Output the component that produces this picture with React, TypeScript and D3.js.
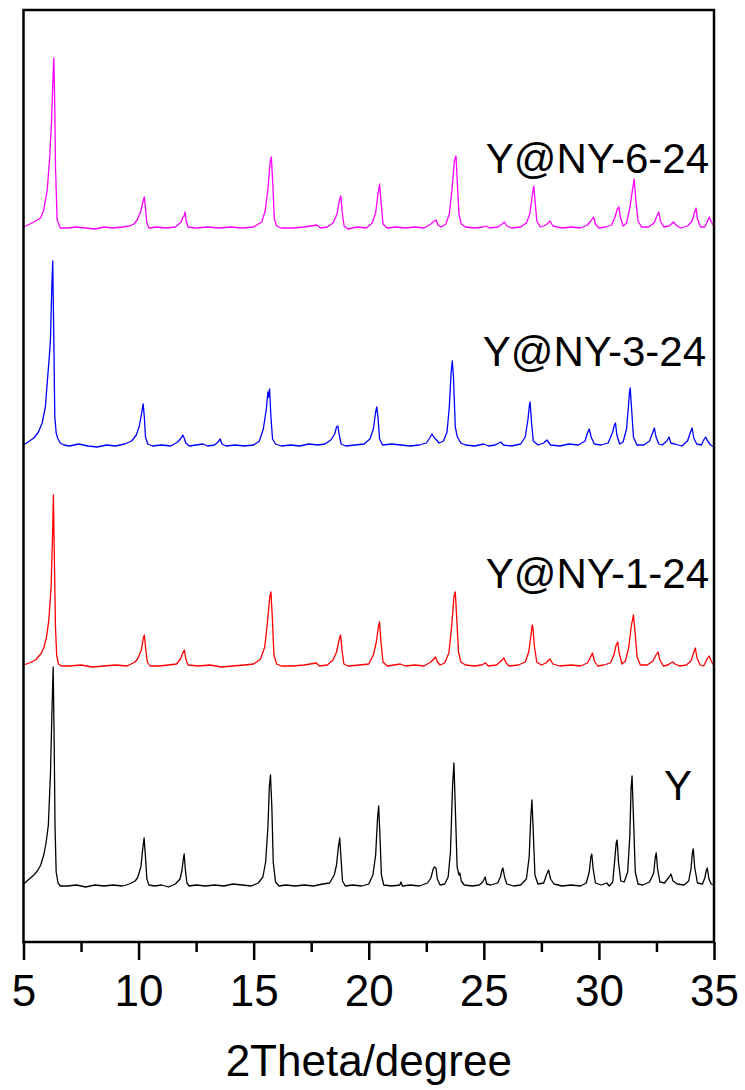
import React, { useEffect, useRef } from 'react';
import * as d3 from 'd3';

type Pt = [number, number];

// XRD patterns: [2theta, intensity above own baseline]
const patternY: Pt[] = [
  [5.0, 3], [5.15, 6], [5.3, 9], [5.45, 12], [5.6, 16], [5.75, 22], [5.88, 32], [5.98, 44], [6.08, 62], [6.17, 112], [6.23, 170], [6.29, 220], [6.33, 150], [6.37, 60], [6.42, 15], [6.5, 4], [6.6, 1],
  [6.9, 1], [7.3, 2], [7.7, 0], [8.1, 2], [8.5, 1], [8.9, 2], [9.3, 1], [9.6, 3], [9.85, 6],
  [9.95, 9], [10.1, 20], [10.18, 38], [10.24, 49], [10.3, 30], [10.36, 8], [10.45, 2],
  [10.7, 1], [11.0, 2], [11.3, 0], [11.6, 3], [11.8, 8],
  [11.88, 16], [11.94, 27], [11.98, 33], [12.03, 18], [12.1, 4], [12.2, 1],
  [12.5, 2], [12.9, 1], [13.3, 2], [13.7, 1], [14.1, 3], [14.5, 2], [14.9, 1], [15.2, 4], [15.4, 10],
  [15.52, 25], [15.62, 60], [15.68, 100], [15.73, 112], [15.79, 80], [15.85, 25], [15.95, 5], [16.1, 1],
  [16.4, 2], [16.8, 1], [17.2, 2], [17.6, 1], [18.0, 3], [18.3, 4], [18.5, 12],
  [18.6, 22], [18.68, 40], [18.74, 49], [18.79, 30], [18.86, 6], [18.98, 1],
  [19.3, 2], [19.7, 1], [20.0, 3], [20.18, 12],
  [20.3, 32], [20.38, 68], [20.43, 81], [20.48, 55], [20.55, 12], [20.65, 2],
  [21.0, 1], [21.35, 2], [21.4, 5], [21.46, 1], [21.8, 2], [22.2, 1], [22.55, 4],
  [22.7, 9], [22.8, 18], [22.85, 20], [22.92, 19], [22.98, 8], [23.1, 2], [23.3, 3], [23.45, 10],
  [23.55, 35], [23.64, 100], [23.7, 124], [23.76, 80], [23.84, 20], [23.92, 12], [23.96, 14], [24.02, 6], [24.15, 2],
  [24.5, 1], [24.8, 2], [24.95, 5], [25.06, 10], [25.12, 3], [25.3, 2], [25.6, 4],
  [25.72, 10], [25.8, 18], [25.83, 19], [25.9, 10], [26.0, 3],
  [26.3, 1], [26.6, 2], [26.85, 8],
  [26.97, 30], [27.04, 70], [27.09, 87], [27.14, 60], [27.22, 12], [27.35, 3],
  [27.6, 4], [27.72, 12], [27.81, 17], [27.9, 8], [28.05, 3], [28.4, 1], [28.8, 2], [29.2, 1], [29.45, 4],
  [29.58, 15], [29.65, 30], [29.69, 33], [29.75, 18], [29.85, 4],
  [30.1, 2], [30.34, 4], [30.45, 1], [30.6, 5],
  [30.68, 25], [30.75, 44], [30.79, 47], [30.85, 25], [30.95, 6], [31.1, 5], [31.25, 15],
  [31.34, 50], [31.4, 100], [31.44, 111], [31.5, 70], [31.58, 15], [31.7, 3], [31.9, 2], [32.2, 5],
  [32.38, 14], [32.45, 30], [32.49, 34], [32.55, 18], [32.65, 5], [32.85, 4],
  [33.05, 10], [33.13, 13], [33.22, 6], [33.4, 3], [33.7, 2], [33.9, 6],
  [34.0, 18], [34.06, 34], [34.1, 38], [34.16, 20], [34.28, 4], [34.5, 3],
  [34.6, 9], [34.67, 17], [34.71, 19], [34.78, 8], [34.88, 3], [35.0, 2],
];

const patternNY1: Pt[] = [
  [5.0, 2], [5.25, 4], [5.52, 7], [5.75, 13], [5.88, 19], [6.0, 30], [6.1, 47], [6.2, 80], [6.26, 130], [6.3, 172], [6.34, 110], [6.39, 40], [6.44, 12], [6.52, 3], [6.65, 1],
  [7.0, 1], [7.5, 2], [8.0, 0], [8.5, 1], [9.0, 2], [9.5, 1], [9.85, 5],
  [9.98, 9], [10.12, 17], [10.2, 28], [10.25, 32], [10.31, 18], [10.38, 5], [10.5, 1],
  [10.9, 1], [11.3, 2], [11.65, 3], [11.82, 8],
  [11.9, 13], [11.99, 17], [12.05, 8], [12.15, 2],
  [12.6, 1], [13.1, 2], [13.6, 0], [14.1, 1], [14.6, 2], [15.0, 3], [15.3, 8],
  [15.48, 20], [15.6, 45], [15.7, 70], [15.75, 75], [15.81, 50], [15.88, 12], [16.0, 3], [16.2, 1],
  [16.7, 1], [17.2, 2], [17.72, 4], [17.85, 1], [18.2, 2], [18.45, 7],
  [18.6, 15], [18.72, 28], [18.78, 32], [18.84, 16], [18.92, 3], [19.1, 1],
  [19.6, 2], [20.0, 3], [20.2, 12],
  [20.33, 25], [20.42, 40], [20.47, 45], [20.53, 25], [20.62, 5], [20.8, 1],
  [21.1, 2], [21.37, 3], [21.6, 1], [22.0, 2], [22.4, 1], [22.7, 5],
  [22.82, 8], [22.9, 10], [22.98, 5], [23.1, 2], [23.3, 4], [23.48, 14],
  [23.6, 40], [23.7, 70], [23.76, 75], [23.82, 50], [23.9, 15], [24.0, 5], [24.2, 2],
  [24.6, 1], [24.9, 2], [25.07, 4], [25.2, 1], [25.55, 2], [25.75, 6],
  [25.87, 9], [25.97, 4], [26.1, 1], [26.5, 2], [26.8, 5], [26.95, 15],
  [27.05, 32], [27.1, 42], [27.13, 40], [27.2, 20], [27.3, 5], [27.5, 2], [27.7, 4],
  [27.87, 8], [28.0, 3], [28.3, 1], [28.8, 2], [29.2, 1], [29.5, 4],
  [29.62, 9], [29.72, 14], [29.8, 6], [29.95, 1], [30.2, 2], [30.5, 4], [30.65, 12],
  [30.75, 22], [30.82, 25], [30.88, 14], [31.0, 3], [31.15, 6], [31.3, 20],
  [31.4, 40], [31.5, 52], [31.57, 35], [31.66, 10], [31.8, 2], [32.1, 2], [32.35, 6],
  [32.48, 12], [32.57, 15], [32.65, 7], [32.8, 1], [33.0, 2], [33.12, 4],
  [33.21, 5], [33.3, 3], [33.5, 1], [33.8, 2], [34.0, 6],
  [34.1, 13], [34.19, 19], [34.26, 9], [34.4, 2], [34.55, 1], [34.7, 8],
  [34.79, 11], [34.88, 6], [35.0, 1],
];

const patternNY3: Pt[] = [
  [5.0, 2], [5.2, 5], [5.45, 9], [5.65, 15], [5.81, 24], [5.95, 40], [6.03, 64], [6.12, 90], [6.17, 107], [6.23, 160], [6.27, 186], [6.31, 120], [6.36, 30], [6.42, 14], [6.5, 8], [6.6, 4], [6.75, 2],
  [7.0, 1], [7.4, 3], [7.8, 1], [8.2, 0], [8.6, 2], [9.0, 1], [9.4, 3], [9.7, 6], [9.9, 12],
  [10.02, 20], [10.12, 32], [10.2, 43], [10.25, 30], [10.3, 10], [10.4, 3], [10.6, 1],
  [11.0, 2], [11.4, 1], [11.7, 5], [11.85, 9],
  [11.92, 12], [11.98, 9], [12.05, 4], [12.2, 1], [12.5, 2], [12.8, 3], [13.0, 1],
  [13.3, 2], [13.45, 5], [13.55, 8], [13.62, 3], [13.8, 1], [14.2, 2], [14.6, 1], [15.0, 2], [15.25, 6],
  [15.42, 18], [15.55, 38], [15.62, 55], [15.65, 50], [15.69, 58], [15.75, 30], [15.82, 8], [15.95, 3], [16.2, 1],
  [16.6, 2], [17.0, 1], [17.4, 3], [17.8, 2], [18.1, 3], [18.35, 7],
  [18.52, 13], [18.6, 20], [18.66, 21], [18.72, 12], [18.8, 3], [19.0, 1],
  [19.4, 2], [19.8, 3], [20.05, 8], [20.2, 18],
  [20.3, 35], [20.35, 40], [20.4, 30], [20.47, 8], [20.6, 2],
  [21.0, 3], [21.4, 2], [21.8, 1], [22.2, 2], [22.5, 4], [22.65, 9],
  [22.75, 13], [22.85, 9], [22.95, 7], [23.05, 4], [23.25, 6], [23.4, 15],
  [23.5, 40], [23.58, 75], [23.63, 86], [23.68, 70], [23.76, 20], [23.85, 10], [24.0, 4], [24.2, 2],
  [24.6, 1], [24.99, 3], [25.2, 1], [25.5, 2], [25.74, 5], [25.85, 2], [26.2, 1], [26.6, 3], [26.8, 10],
  [26.92, 28], [26.98, 42], [27.01, 45], [27.07, 25], [27.15, 6], [27.35, 2],
  [27.6, 4], [27.74, 7], [27.9, 2], [28.3, 1], [28.7, 3], [29.1, 2], [29.4, 6],
  [29.5, 14], [29.58, 18], [29.66, 10], [29.8, 3], [30.1, 2], [30.4, 4], [30.6, 15],
  [30.67, 22], [30.72, 24], [30.78, 12], [30.9, 3], [31.05, 5], [31.2, 18],
  [31.28, 40], [31.33, 55], [31.36, 59], [31.42, 38], [31.5, 10], [31.65, 2], [31.95, 2], [32.2, 6],
  [32.33, 14], [32.41, 19], [32.48, 10], [32.6, 3], [32.75, 2], [32.95, 6],
  [33.05, 10], [33.12, 4], [33.3, 3], [33.6, 1], [33.85, 6],
  [33.98, 15], [34.05, 19], [34.12, 9], [34.25, 3], [34.45, 2], [34.55, 7],
  [34.64, 10], [34.72, 6], [34.85, 2], [35.0, 0],
];

const patternNY6: Pt[] = [
  [5.0, 2], [5.1, 3], [5.45, 7], [5.74, 11], [5.88, 19], [6.03, 39], [6.14, 72], [6.22, 109], [6.28, 150], [6.32, 171], [6.36, 120], [6.39, 62], [6.46, 9], [6.6, 1],
  [6.9, 1], [7.3, 2], [7.7, 1], [8.1, 0], [8.5, 2], [8.9, 1], [9.3, 2], [9.6, 3], [9.8, 5],
  [9.94, 9], [10.1, 18], [10.2, 28], [10.25, 32], [10.3, 20], [10.36, 6], [10.45, 1],
  [10.8, 2], [11.2, 1], [11.6, 2], [11.85, 7],
  [11.93, 12], [11.98, 13], [12.02, 17], [12.07, 8], [12.15, 2],
  [12.5, 1], [13.0, 2], [13.5, 1], [14.0, 2], [14.5, 1], [15.0, 2], [15.35, 7],
  [15.5, 18], [15.62, 40], [15.72, 68], [15.77, 72], [15.83, 45], [15.9, 10], [16.0, 3], [16.2, 1],
  [16.7, 1], [17.2, 2], [17.75, 4], [17.9, 1], [18.2, 2], [18.45, 6],
  [18.62, 15], [18.73, 29], [18.79, 33], [18.85, 16], [18.93, 3], [19.1, 0],
  [19.5, 2], [19.9, 1], [20.15, 6], [20.3, 16],
  [20.4, 35], [20.47, 45], [20.53, 28], [20.62, 5], [20.8, 1],
  [21.2, 2], [21.6, 1], [22.0, 2], [22.4, 1], [22.7, 5],
  [22.85, 8], [22.93, 9], [23.0, 4], [23.15, 2], [23.35, 5], [23.5, 15],
  [23.62, 40], [23.72, 68], [23.79, 73], [23.84, 50], [23.92, 15], [24.02, 5], [24.2, 2],
  [24.6, 1], [24.95, 2], [25.1, 3], [25.25, 1], [25.6, 2], [25.8, 5],
  [25.89, 7], [26.0, 3], [26.2, 1], [26.6, 2], [26.85, 6], [27.0, 15],
  [27.1, 33], [27.17, 43], [27.22, 30], [27.3, 8], [27.45, 2], [27.7, 4],
  [27.88, 8], [28.0, 3], [28.4, 1], [28.8, 2], [29.2, 1], [29.5, 4],
  [29.68, 9], [29.77, 12], [29.85, 5], [30.0, 1], [30.3, 2], [30.55, 4], [30.7, 12],
  [30.8, 20], [30.87, 22], [30.93, 12], [31.05, 3], [31.2, 6], [31.35, 22],
  [31.45, 38], [31.53, 50], [31.6, 30], [31.7, 8], [31.85, 2], [32.15, 2], [32.4, 6],
  [32.52, 13], [32.6, 17], [32.67, 8], [32.82, 2], [33.05, 3], [33.15, 5],
  [33.24, 7], [33.35, 4], [33.55, 1], [33.85, 3], [34.05, 8],
  [34.15, 16], [34.22, 21], [34.28, 10], [34.42, 2], [34.6, 2], [34.72, 8],
  [34.8, 12], [34.88, 7], [35.0, 3],
];

const seriesNames = ['Y', 'Y@NY-1-24', 'Y@NY-3-24', 'Y@NY-6-24'];
const seriesData = [patternY, patternNY1, patternNY3, patternNY6];
const seriesOffsets = [55, 275, 495, 713];
const seriesColors = ['#000000', '#ff0000', '#0000ff', '#ff00ff'];
const majorTicks = [5, 10, 15, 20, 25, 30, 35];
const minorTicks = [7.5, 12.5, 17.5, 22.5, 27.5, 32.5];
const xTitle = '2Theta/degree';

const width = 745;
const height = 1090;
const margin = { top: 10, right: 31, bottom: 148, left: 23.5 };
const font = 'Liberation Sans, Arial, sans-serif';

// label anchors [x end, baseline]
const labelPos: [number, number][] = [[692, 800], [709, 588], [706, 366], [709, 173]];

const App = () => {
  const axisRef = useRef<SVGGElement>(null);
  const minorRef = useRef<SVGGElement>(null);

  const xScale = d3
    .scaleLinear()
    .domain([5, 35])
    .range([margin.left, width - margin.right]);

  const yScale = d3
    .scaleLinear()
    .domain([0, 932])
    .range([height - margin.bottom, margin.top]);

  const line = (offset: number) =>
    d3
      .line<Pt>()
      .x(d => xScale(d[0]))
      .y(d => yScale(d[1] + offset));

  useEffect(() => {
    const xAxis = d3
      .axisBottom(xScale)
      .tickValues(majorTicks)
      .tickSize(18)
      .tickPadding(15)
      .tickFormat(d => String(d));
    const g = d3.select(axisRef.current!).call(xAxis);
    g.select('.domain').remove();
    g.selectAll('line').attr('stroke', '#000').attr('stroke-width', 2.5);
    g.selectAll('text')
      .attr('font-size', 44)
      .attr('font-family', font)
      .attr('fill', '#000');

    const minor = d3
      .axisBottom(xScale)
      .tickValues(minorTicks)
      .tickSize(10)
      .tickFormat(() => '');
    const m = d3.select(minorRef.current!).call(minor);
    m.select('.domain').remove();
    m.selectAll('line').attr('stroke', '#000').attr('stroke-width', 2.5);
  }, []);

  const x0 = xScale(5);
  const x1 = xScale(35);
  const yb = height - margin.bottom;

  return (
    <svg
      width={width}
      height={height}
      style={{ position: 'absolute', left: 0, top: 0, background: '#fff' }}
    >
      {seriesData.map((d, i) => (
        <path
          key={seriesNames[i]}
          d={line(seriesOffsets[i])(d) || ''}
          fill="none"
          stroke={seriesColors[i]}
          strokeWidth={1.3}
          strokeLinejoin="round"
        />
      ))}
      <rect
        x={x0}
        y={margin.top}
        width={x1 - x0}
        height={yb - margin.top}
        fill="none"
        stroke="#000"
        strokeWidth={2.5}
      />
      <g ref={axisRef} transform={`translate(0, ${yb})`} />
      <g ref={minorRef} transform={`translate(0, ${yb})`} />
      {seriesNames.map((name, i) => (
        <text
          key={`lab-${name}`}
          x={labelPos[i][0]}
          y={labelPos[i][1]}
          textAnchor="end"
          fontSize={42}
          fontFamily={font}
          fill="#000"
        >
          {name}
        </text>
      ))}
      <text
        x={(x0 + x1) / 2}
        y={1076}
        textAnchor="middle"
        fontSize={44}
        fontFamily={font}
        fill="#000"
      >
        {xTitle}
      </text>
    </svg>
  );
};

export default App;
